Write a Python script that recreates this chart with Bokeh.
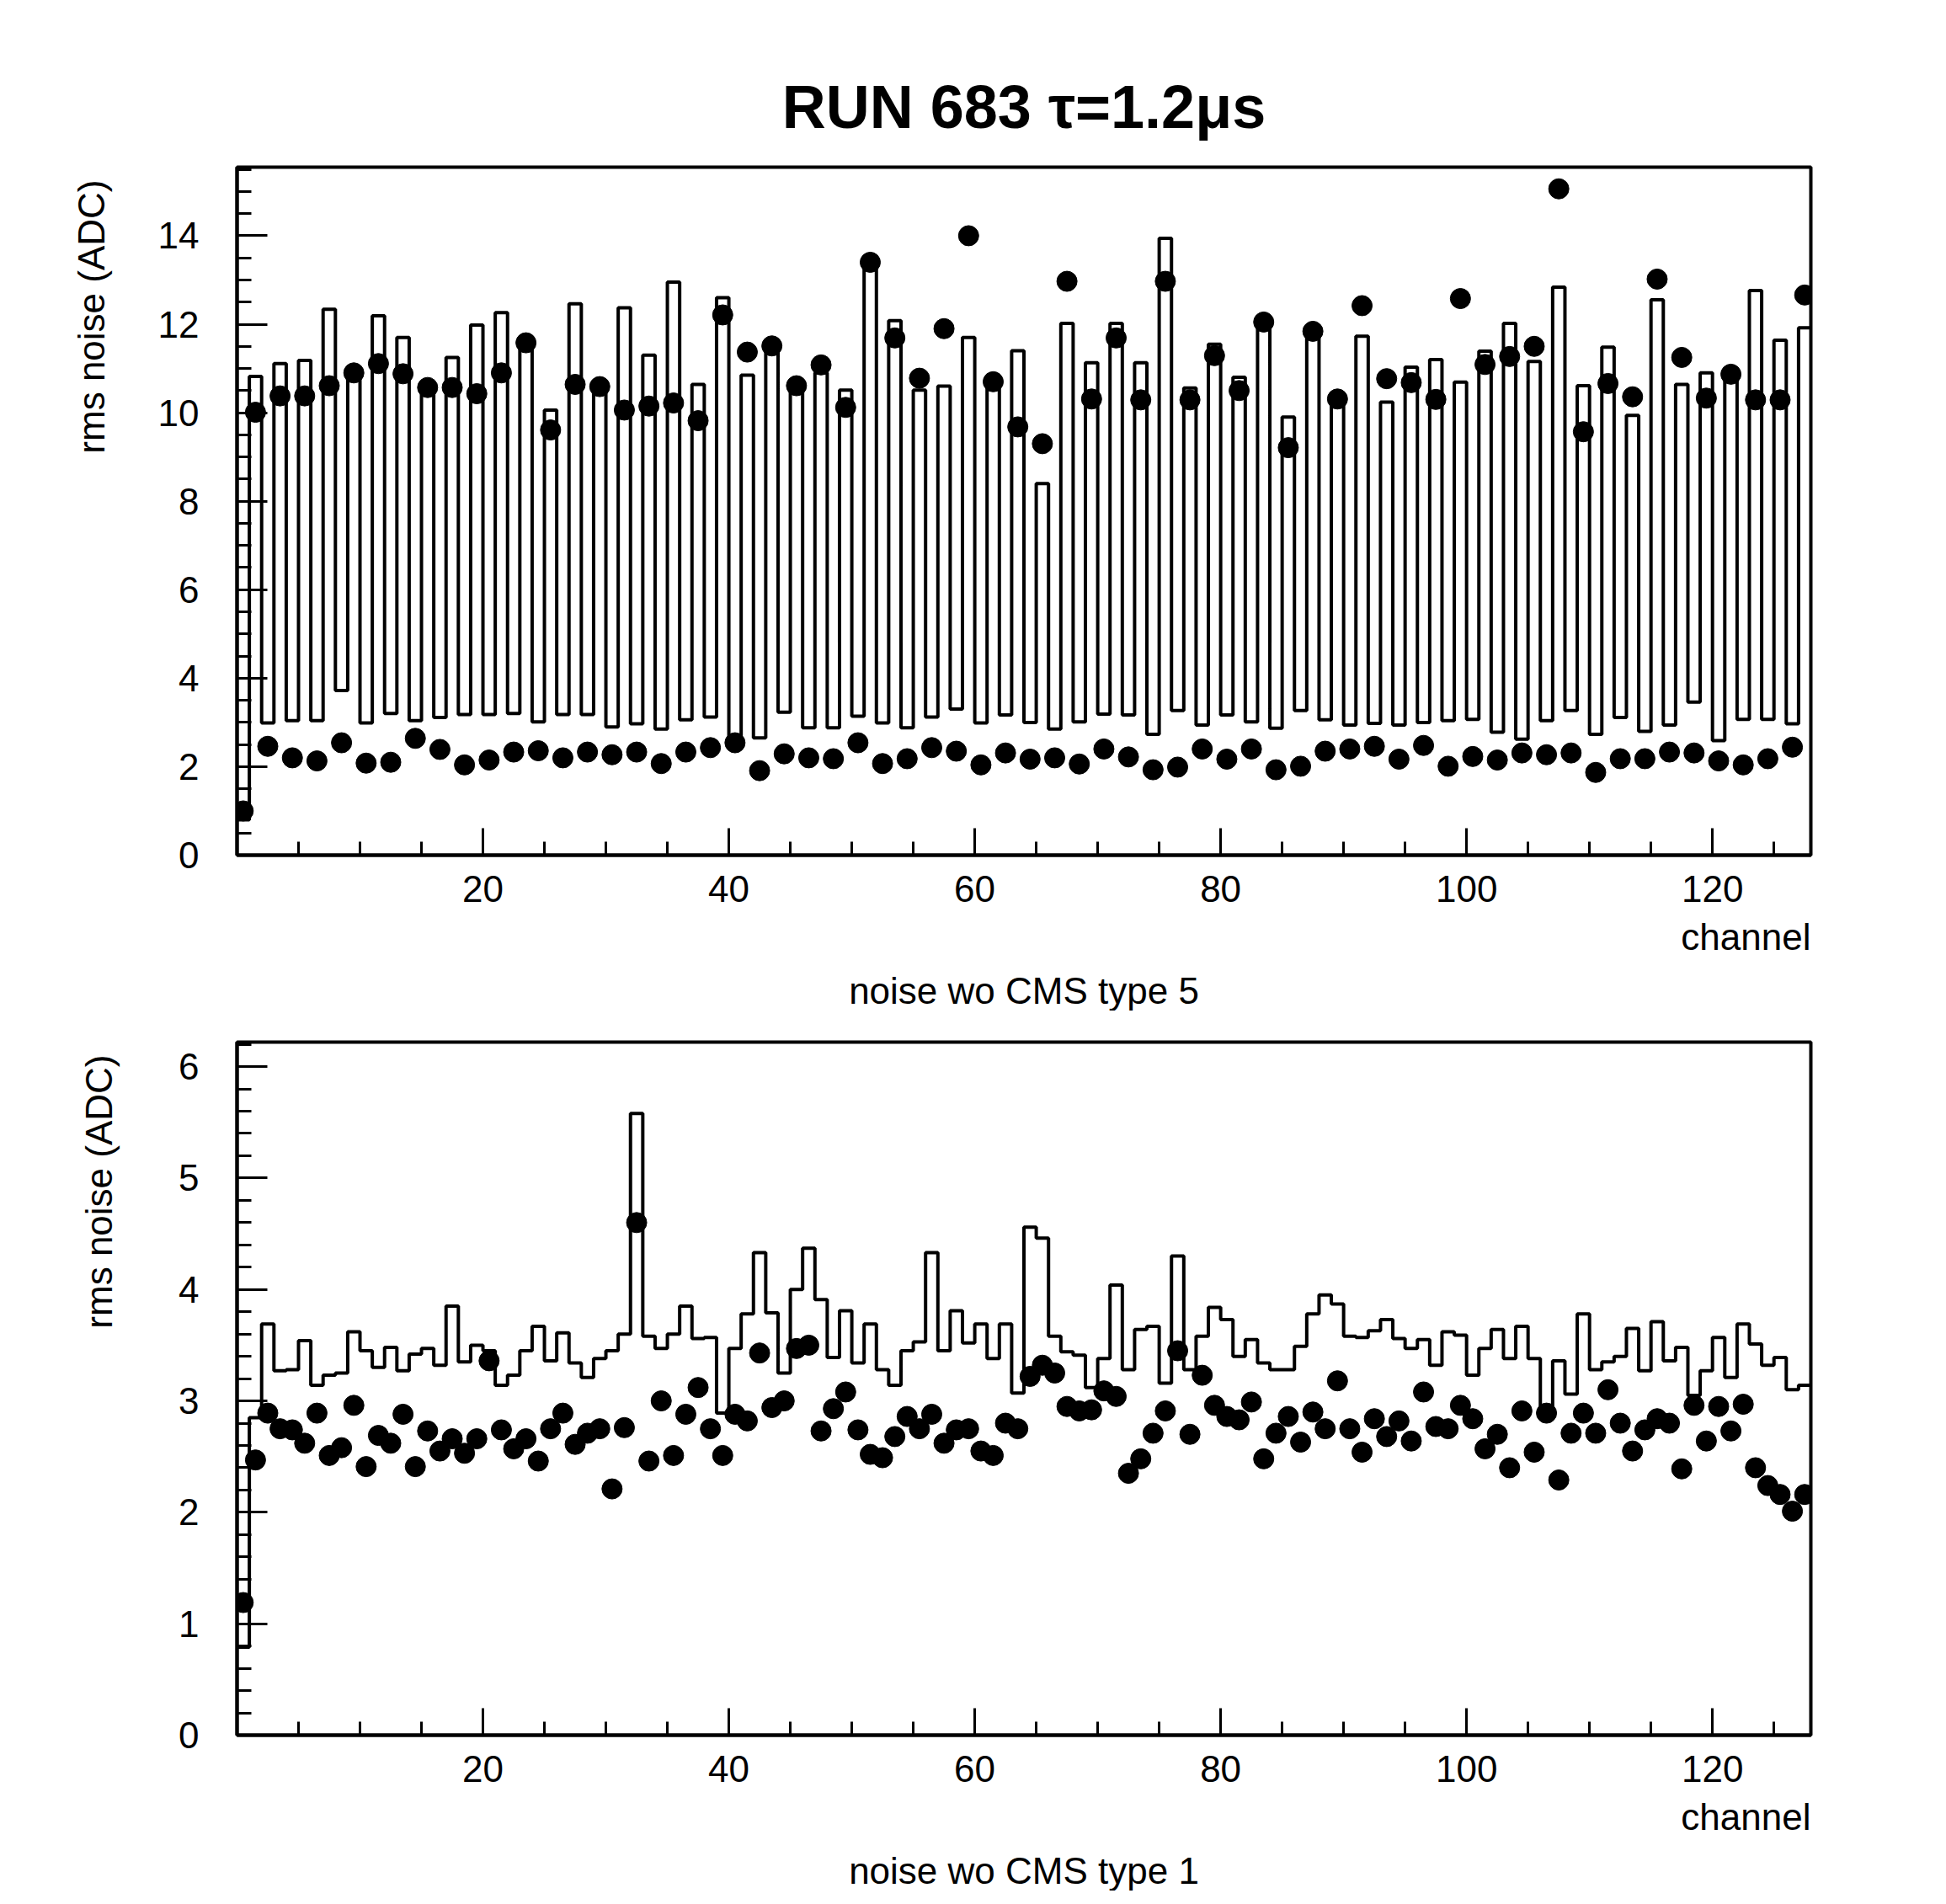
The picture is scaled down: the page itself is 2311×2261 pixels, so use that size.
from bokeh.plotting import figure
from bokeh.models import FixedTicker, Title, Range1d
from bokeh.layouts import column
from bokeh.embed import file_html
from bokeh.resources import INLINE

# ---------------- data ----------------
channels = list(range(128))

hist_top = [0.8, 10.82, 2.99, 11.11, 3.04, 11.18, 3.04, 12.34, 3.72, 10.85,
            2.99, 12.19, 3.2, 11.7, 3.04, 10.5, 3.11, 11.25, 3.18, 11.98,
            3.18, 12.26, 3.2, 11.45, 3.01, 10.06, 3.18, 12.46, 3.18, 10.6,
            2.9, 12.37, 2.97, 11.3, 2.85, 12.95, 3.06, 10.64, 3.12, 12.6,
            2.7, 10.85, 2.65, 11.4, 3.23, 10.5, 2.88, 10.9, 2.88, 10.51,
            3.14, 13.26, 2.99, 12.08, 2.88, 10.51, 3.12, 10.6, 3.3, 11.7,
            2.99, 10.85, 3.17, 11.4, 3.0, 8.4, 2.85, 12.02, 3.01, 11.13,
            3.19, 12.02, 3.17, 11.13, 2.73, 13.94, 3.27, 10.56, 2.94, 11.55,
            3.17, 10.8, 3.01, 11.95, 2.87, 9.9, 3.27, 11.75, 3.06, 10.25,
            2.94, 11.73, 2.98, 10.24, 2.94, 11.03, 3.0, 11.2, 3.04, 10.69,
            3.07, 11.39, 2.78, 12.02, 2.62, 11.16, 3.04, 12.84, 3.27, 10.61,
            2.73, 11.48, 3.11, 9.94, 2.8, 12.55, 2.94, 10.64, 3.46, 10.9,
            2.59, 10.8, 3.07, 12.76, 3.07, 11.64, 2.97, 11.92]

dots_top = [1.0, 10.01, 2.46, 10.38, 2.2, 10.38, 2.13, 10.61, 2.54, 10.9,
            2.08, 11.11, 2.1, 10.88, 2.64, 10.57, 2.39, 10.57, 2.04, 10.43,
            2.15, 10.9, 2.33, 11.58, 2.36, 9.61, 2.2, 10.64, 2.33, 10.59,
            2.27, 10.06, 2.33, 10.15, 2.07, 10.22, 2.33, 9.82, 2.43, 12.21,
            2.54, 11.37, 1.91, 11.51, 2.29, 10.61, 2.2, 11.08, 2.18, 10.12,
            2.54, 13.4, 2.07, 11.69, 2.18, 10.78, 2.43, 11.9, 2.35, 14.0,
            2.04, 10.7, 2.31, 9.68, 2.17, 9.3, 2.2, 12.97, 2.06, 10.31,
            2.4, 11.69, 2.22, 10.29, 1.93, 12.97, 1.99, 10.29, 2.4, 11.29,
            2.17, 10.5, 2.4, 12.05, 1.93, 9.21, 2.01, 11.84, 2.35, 10.31,
            2.4, 12.42, 2.46, 10.77, 2.17, 10.68, 2.48, 10.3, 2.01, 12.58,
            2.23, 11.09, 2.15, 11.27, 2.31, 11.5, 2.27, 15.06, 2.31, 9.57,
            1.87, 10.66, 2.18, 10.36, 2.18, 13.02, 2.33, 11.25, 2.31, 10.33,
            2.13, 10.87, 2.04, 10.29, 2.18, 10.29, 2.44, 12.66]

hist_bot = [0.79, 2.85, 3.69, 3.27, 3.28, 3.54, 3.14, 3.23, 3.25, 3.62,
            3.45, 3.3, 3.48, 3.27, 3.42, 3.47, 3.32, 3.85, 3.35, 3.5,
            3.45, 3.14, 3.23, 3.45, 3.67, 3.36, 3.61, 3.34, 3.21, 3.38,
            3.45, 3.6, 5.58, 3.58, 3.47, 3.6, 3.85, 3.56, 3.57, 2.89,
            3.47, 3.78, 4.33, 3.79, 3.25, 4.0, 4.37, 3.91, 3.39, 3.81,
            3.34, 3.69, 3.28, 3.14, 3.45, 3.53, 4.33, 3.45, 3.81, 3.52,
            3.69, 3.38, 3.69, 3.07, 4.56, 4.46, 3.58, 3.44, 3.41, 3.12,
            3.38, 4.04, 3.28, 3.64, 3.67, 3.16, 4.3, 3.28, 3.58, 3.84,
            3.73, 3.4, 3.55, 3.34, 3.28, 3.28, 3.49, 3.78, 3.95, 3.87,
            3.58, 3.57, 3.63, 3.73, 3.56, 3.47, 3.55, 3.32, 3.62, 3.59,
            3.23, 3.47, 3.64, 3.38, 3.67, 3.38, 2.95, 3.36, 3.06, 3.78,
            3.28, 3.35, 3.4, 3.65, 3.27, 3.71, 3.36, 3.48, 3.05, 3.27,
            3.57, 3.21, 3.69, 3.51, 3.32, 3.39, 3.1, 3.14]

dots_bot = [1.19, 2.47, 2.89, 2.75, 2.74, 2.62, 2.89, 2.51, 2.58, 2.96,
            2.41, 2.69, 2.62, 2.88, 2.41, 2.73, 2.55, 2.66, 2.53, 2.66,
            3.36, 2.74, 2.57, 2.66, 2.46, 2.75, 2.89, 2.61, 2.71, 2.75,
            2.21, 2.76, 4.6, 2.46, 3.0, 2.51, 2.88, 3.12, 2.75, 2.51,
            2.88, 2.82, 3.43, 2.94, 3.0, 3.47, 3.5, 2.73, 2.93, 3.08,
            2.74, 2.52, 2.49, 2.68, 2.86, 2.75, 2.88, 2.62, 2.74, 2.75,
            2.55, 2.51, 2.8, 2.75, 3.22, 3.32, 3.25, 2.95, 2.91, 2.92,
            3.09, 3.04, 2.35, 2.48, 2.71, 2.91, 3.45, 2.7, 3.23, 2.96,
            2.86, 2.83, 2.99, 2.48, 2.71, 2.86, 2.63, 2.9, 2.75, 3.18,
            2.75, 2.54, 2.84, 2.68, 2.82, 2.64, 3.08, 2.77, 2.75, 2.96,
            2.84, 2.57, 2.7, 2.4, 2.91, 2.54, 2.89, 2.29, 2.71, 2.89,
            2.71, 3.1, 2.8, 2.55, 2.74, 2.84, 2.8, 2.39, 2.96, 2.64,
            2.95, 2.73, 2.97, 2.4, 2.24, 2.16, 2.01, 2.16]

main_title = "RUN 683 \u03c4=1.2\u03bcs"
y_title = "rms noise (ADC)"
x_title = "channel"
sub_top = "noise wo CMS type 5"
sub_bot = "noise wo CMS type 1"
x_major = [20, 40, 60, 80, 100, 120]
y_major_top = [0, 2, 4, 6, 8, 10, 12, 14]
y_major_bot = [0, 1, 2, 3, 4, 5, 6]

assert len(hist_top) == len(dots_top) == len(hist_bot) == len(dots_bot) == 128

FONT = "Liberation Sans"
W = 2295


def make_panel(hist, dots, ymax, y_major, y_minor_step, sub, height,
               b_left, b_right, b_top, b_bottom, ytitle_standoff):
    p = figure(width=W, height=height, x_range=Range1d(0, 128),
               y_range=Range1d(0, ymax), output_backend="svg",
               toolbar_location=None, min_border_left=b_left,
               min_border_right=b_right, min_border_top=b_top,
               min_border_bottom=b_bottom)
    p.background_fill_color = "white"
    p.border_fill_color = "white"
    p.xgrid.visible = False
    p.ygrid.visible = False
    p.outline_line_color = "black"
    p.outline_line_width = 4

    edges = channels + [128]
    p.step(x=edges, y=hist + [hist[-1]], mode="after",
           line_color="black", line_width=4)
    centers = [c + 0.5 for c in channels]
    p.scatter(x=centers, y=dots, size=24, color="black")

    xa = p.xaxis[0]
    xa.ticker = FixedTicker(ticks=x_major, minor_ticks=list(range(5, 128, 5)))
    xa.major_tick_in = 32
    xa.major_tick_out = 0
    xa.minor_tick_in = 16
    xa.minor_tick_out = 0
    xa.major_label_standoff = 24

    nmin = int(round(ymax / y_minor_step)) + 1
    ya = p.yaxis[0]
    ya.ticker = FixedTicker(ticks=y_major,
                            minor_ticks=[round(i * y_minor_step, 3) for i in range(nmin)])
    ya.major_tick_in = 36
    ya.major_tick_out = 0
    ya.minor_tick_in = 17
    ya.minor_tick_out = 0
    ya.major_label_standoff = 45

    for ax in (xa, ya):
        ax.axis_line_width = 4
        ax.axis_line_color = "black"
        ax.major_tick_line_width = 3
        ax.minor_tick_line_width = 3
        ax.major_tick_line_color = "black"
        ax.minor_tick_line_color = "black"
        ax.major_label_text_font = FONT
        ax.major_label_text_font_size = "44px"
        ax.major_label_text_color = "black"

    p.add_layout(Title(text=y_title, align="right", text_font=FONT,
                       text_font_size="44px", text_font_style="normal",
                       text_color="black", standoff=ytitle_standoff,
                       offset=15), "left")
    p.add_layout(Title(text=x_title, align="right", text_font=FONT,
                       text_font_size="44px", text_font_style="normal",
                       text_color="black", standoff=25), "below")
    p.add_layout(Title(text=sub, align="center", text_font=FONT,
                       text_font_size="44px", text_font_style="normal",
                       text_color="black", standoff=0), "below")
    return p


p1 = make_panel(hist_top, dots_top, 15.55, y_major_top, 0.5, sub_top,
                1200, 281, 145, 198, 185, 103)
p1.title.text = main_title
p1.title.align = "center"
p1.title.text_font = FONT
p1.title.text_font_size = "72px"
p1.title.text_font_style = "bold"
p1.title.text_color = "black"
p1.title.standoff = 64

p2 = make_panel(hist_bot, dots_bot, 6.22, y_major_bot, 0.2, sub_bot,
                1045, 281, 145, 37, 185, 136)

layout = column(p1, p2, spacing=0)
open("out.html", "w").write(file_html(layout, INLINE))
